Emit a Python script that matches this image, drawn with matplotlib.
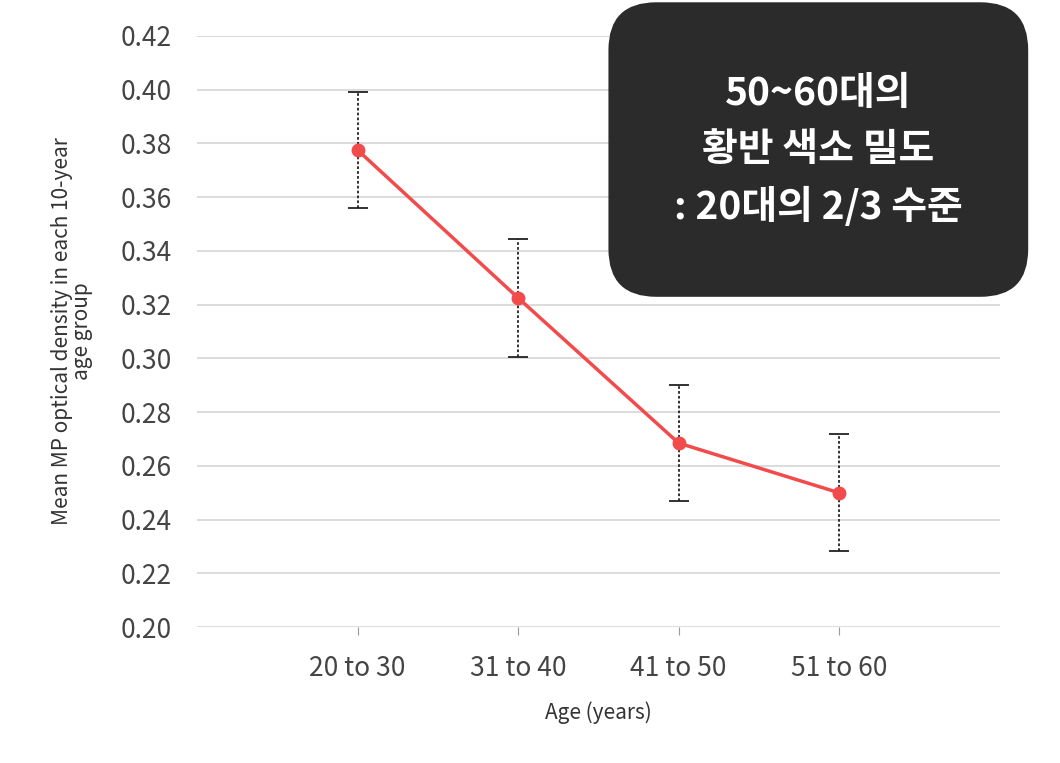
import matplotlib

matplotlib.use("Agg")
import matplotlib.pyplot as plt
from matplotlib.patches import FancyBboxPatch

plt.rcParams["font.family"] = ["Noto Sans CJK KR", "DejaVu Sans"]

groups = ["20 to 30", "31 to 40", "41 to 50", "51 to 60"]
means = [0.3775, 0.3225, 0.2685, 0.2500]
errors = [0.0215, 0.0218, 0.0217, 0.0218]
yticks = [0.20, 0.22, 0.24, 0.26, 0.28, 0.30, 0.32, 0.34, 0.36, 0.38, 0.40, 0.42]
note = "50~60대의\n황반 색소 밀도\n: 20대의 2/3 수준"

fig = plt.figure(figsize=(10.6, 7.63), dpi=100)
ax = fig.add_axes([0.186, 0.178, 0.757, 0.775])
x = list(range(len(groups)))

eb = ax.errorbar(x, means, yerr=errors, fmt="none", ecolor="#222222", elinewidth=1.3,
                 capsize=7, capthick=1.3, zorder=2)
eb[2][0].set_linestyle((0, (1.5, 1.2)))
ax.plot(x, means, color="#f24b4b", lw=2.5, marker="o", ms=9, zorder=3)

ax.set_xlim(-1, 4)
ax.set_ylim(0.20, 0.42)
ax.set_yticks(yticks)
ax.set_yticklabels([f"{v:.2f}" for v in yticks])
ax.set_xticks(x)
ax.set_xticklabels(groups)
ax.grid(axis="y", color="#d9d9d9", lw=1.3)
ax.set_axisbelow(True)
for s in ax.spines.values():
    s.set_visible(False)
ax.tick_params(axis="y", length=0, labelsize=19, colors="#444444", pad=18)
ax.tick_params(axis="x", length=6, color="#999999", labelsize=19, labelcolor="#444444", pad=14)
ax.set_xlabel("Age (years)", fontsize=15, color="#333333", labelpad=14)
ax.set_ylabel("Mean MP optical density in each 10-year\nage group", fontsize=15,
              color="#333333", labelpad=20, linespacing=0.9)

box = FancyBboxPatch((0.574, 0.611), 0.396, 0.386, boxstyle="round,pad=0,rounding_size=0.045",
                     transform=fig.transFigure, facecolor="#2b2b2b", edgecolor="none",
                     mutation_aspect=1.39)
fig.patches.append(box)
fig.text(0.772, 0.803, note, ha="center", va="center", color="white", fontsize=28,
         fontweight="semibold", linespacing=1.55)

fig.savefig("out.png", dpi=100)
